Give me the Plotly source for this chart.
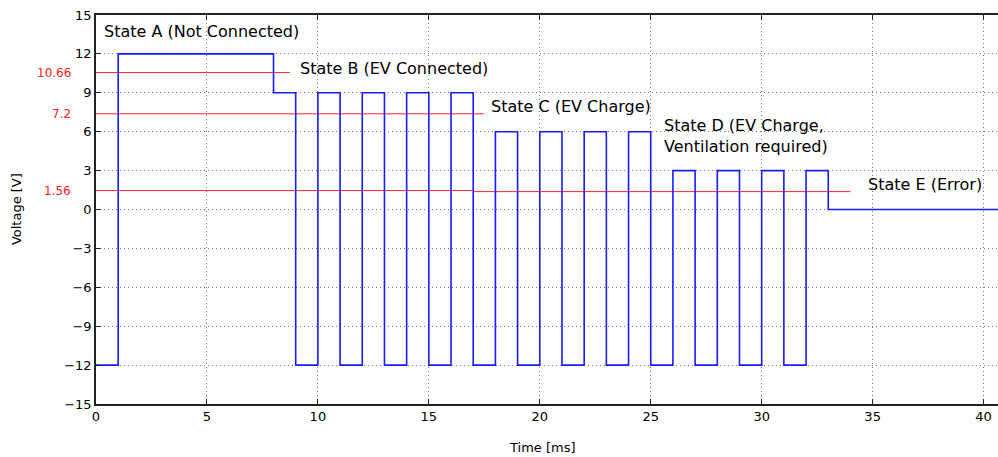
import plotly.graph_objects as go

# --- data ---
time_ms = [0, 1, 8, 9, 10, 11, 12, 13, 14, 15, 16, 17, 18, 19, 20, 21, 22, 23, 24,
           25, 26, 27, 28, 29, 30, 31, 32, 33, 41]
voltage = [-12, 12, 9, -12, 9, -12, 9, -12, 9, -12, 9, -12, 6, -12, 6, -12, 6, -12, 6,
           -12, 3, -12, 3, -12, 3, -12, 3, 0, 0]

thr_x_start = [0, 0, 0, 17]
thr_x_end = [8.73, 17.48, 17, 34]
thr_y = [10.56, 7.38, 1.46, 1.38]

thr_labels = ["10.66", "7.2", "1.56"]
thr_label_y = [10.56, 7.38, 1.46]

state_labels = ["State A (Not Connected)", "State B (EV Connected)", "State C (EV Charge)",
                "State D (EV Charge,<br>Ventilation required)", "State E (Error)"]
state_x = [0.27, 9.1, 17.72, 25.52, 34.72]
state_y = [13.74, 10.89, 7.96, 5.69, 1.95]

y_ticks = [-15, -12, -9, -6, -3, 0, 3, 6, 9, 12, 15]
x_ticks = [0, 5, 10, 15, 20, 25, 30, 35, 40]

FONT = "DejaVu Sans"

fig = go.Figure()

tx, ty = [], []
for a, b, y in zip(thr_x_start, thr_x_end, thr_y):
    tx += [a, b, None]
    ty += [y, y, None]
fig.add_trace(go.Scatter(x=tx, y=ty, mode="lines",
                         line=dict(color="#ff2020", width=1), hoverinfo="skip"))

fig.add_trace(go.Scatter(x=time_ms, y=voltage, mode="lines", line_shape="hv",
                         line=dict(color="#1a1aff", width=1.6)))

for lab, y in zip(thr_labels, thr_label_y):
    fig.add_annotation(x=-0.025, xref="paper", y=y, yref="y", text=lab, showarrow=False,
                       xanchor="right", yanchor="middle",
                       font=dict(family=FONT, size=12, color="#ff2020"))

for lab, x, y in zip(state_labels, state_x, state_y):
    fig.add_annotation(x=x, y=y, text=lab, showarrow=False, xanchor="left", yanchor="middle",
                       align="left", font=dict(family=FONT, size=16, color="black"))

# axis titles
fig.add_annotation(x=0.495, xref="paper", y=-0.112, yref="paper", text="Time [ms]",
                   showarrow=False, xanchor="center", yanchor="middle",
                   font=dict(family=FONT, size=13, color="black"))
fig.add_annotation(x=-0.088, xref="paper", y=0.5, yref="paper", text="Voltage [V]",
                   showarrow=False, xanchor="center", yanchor="middle", textangle=-90,
                   font=dict(family=FONT, size=13, color="black"))

axis_common = dict(showline=True, linecolor="#222222", linewidth=1.5, ticks="inside",
                   ticklen=5, tickcolor="#222222", showgrid=True, gridcolor="#777777",
                   griddash="1px,3px", gridwidth=1, zeroline=False, automargin=False,
                   tickfont=dict(family=FONT, size=13, color="black"))

fig.update_xaxes(range=[0, 40.65], tickvals=x_ticks, mirror="ticks", **axis_common)
fig.update_yaxes(range=[-15, 15], tickvals=y_ticks,
                 ticktext=[str(v).replace("-", "\u2212") for v in y_ticks],
                 **axis_common)

fig.update_layout(width=998, height=457, showlegend=False,
                  margin=dict(l=96, r=0, t=15, b=53),
                  plot_bgcolor="white", paper_bgcolor="white",
                  font=dict(family=FONT))

fig.write_html("out.html", config={"displayModeBar": False},
               post_script="document.body.style.margin='0';document.body.style.overflow='hidden';")
